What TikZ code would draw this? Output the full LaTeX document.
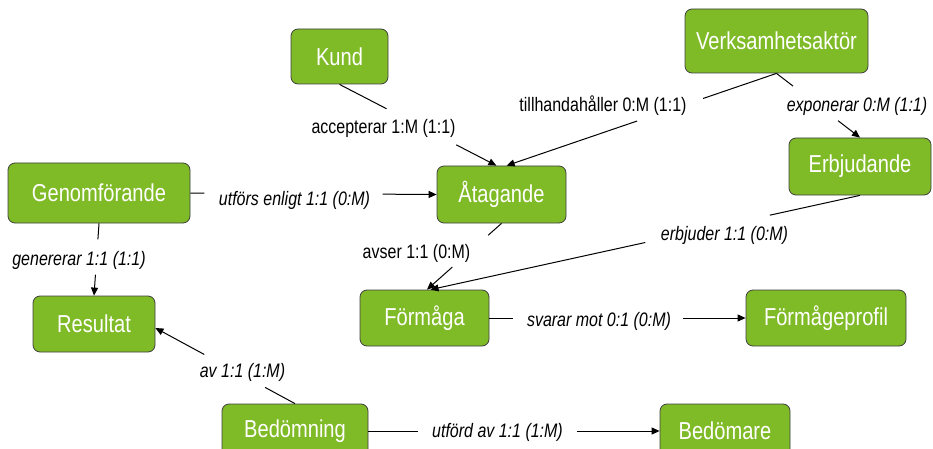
\documentclass[tikz,border=0pt]{standalone}
\usepackage{fontspec}
\setmainfont[FakeStretch=0.82]{Liberation Sans}
\usetikzlibrary{arrows.meta}
\definecolor{boxgreen}{RGB}{127,186,39}

\tikzstyle{entity}=[rectangle, draw=black!75, line width=0.8pt, fill=boxgreen, rounded corners=7pt, text=white, font=\fontsize{24.5}{29}\selectfont, minimum height=56pt, inner sep=0pt]
\tikzstyle{rel}=[font=\fontsize{19.5}{23}\selectfont, inner sep=0pt]
\tikzstyle{reli}=[inner sep=0pt, font=\fontsize{19.5}{23}\selectfont\itshape]
\tikzstyle{conn}=[line width=1pt]
\tikzstyle{arr}=[conn, -{Triangle[length=8pt,width=7pt]}]

\begin{document}
\begin{tikzpicture}[x=1pt,y=-1pt]
\useasboundingbox (0,0) rectangle (933,449);

\node [entity, minimum width=97pt, minimum height=55pt] (kund) at (339.5,56.5) {Kund};
\node [entity, minimum width=183pt, minimum height=64pt] (aktor) at (776.5,41) {Verksamhetsaktör};
\node [entity, minimum width=142pt, minimum height=57pt] (erbj) at (860,166.5) {Erbjudande};
\node [entity, minimum width=182pt, minimum height=60pt] (genf) at (99,193) {Genomförande};
\node [entity, minimum width=129pt, minimum height=57pt] (atag) at (501.5,194.5) {Åtagande};
\node [entity, minimum width=122pt] (res) at (94,324) {Resultat};
\node [entity, minimum width=129pt] (form) at (424.5,318) {Förmåga};
\node [entity, minimum width=160pt] (profil) at (826,318) {Förmågeprofil};
\node [entity, minimum width=146pt, minimum height=54pt] (bed) at (295,431) {Bedömning};
\node [entity, minimum width=130pt, minimum height=54pt] (bedm) at (725,431) {Bedömare};

\node [rel] (acc) at (383.5,128.5) {accepterar 1:M (1:1)};
\node [rel] (tillh) at (603,106) {tillhandahåller 0:M (1:1)};
\node [reli] (expo) at (857,106) {exponerar 0:M (1:1)};
\node [reli] (utfs) at (294.5,200) {utförs enligt 1:1 (0:M)};
\node [reli] (gen) at (79,260) {genererar 1:1 (1:1)};
\node [rel] (avser) at (416.5,253) {avser 1:1 (0:M)};
\node [reli] (erbl) at (724.5,235) {erbjuder 1:1 (0:M)};
\node [reli] (svar) at (599,321) {svarar mot 0:1 (0:M)};
\node [reli] (av) at (242.5,372) {av 1:1 (1:M)};
\node [reli] (utfd) at (497.5,432) {utförd av 1:1 (1:M)};

\path (kund.south) -- coordinate[pos=0.30] (k1) coordinate[pos=0.744] (k2) (atag.100);
\draw [conn] (kund.south) -- (k1);
\draw [arr] (k2) -- (atag.100);

\path (aktor.south) -- coordinate[pos=0.272] (t1) coordinate[pos=0.516] (t2) (atag.80);
\draw [conn] (aktor.south) -- (t1);
\draw [arr] (t2) -- (atag.80);

\path (aktor.south) -- coordinate[pos=0.198] (e1) coordinate[pos=0.737] (e2) (erbj.north);
\draw [conn] (aktor.south) -- (e1);
\draw [arr] (e2) -- (erbj.north);

\path (genf.east) -- coordinate[pos=0.057] (u1) coordinate[pos=0.781] (u2) (atag.west);
\draw [conn] (genf.east) -- (u1);
\draw [arr] (u2) -- (atag.west);

\path (genf.south) -- coordinate[pos=0.22] (g1) coordinate[pos=0.71] (g2) (res.north);
\draw [conn] (genf.south) -- (g1);
\draw [arr] (g2) -- (res.north);

\path (atag.south) -- coordinate[pos=0.18] (a1) coordinate[pos=0.66] (a2) (form.85);
\draw [conn] (atag.south) -- (a1);
\draw [arr] (a2) -- (form.85);

\path (erbj.south) -- coordinate[pos=0.21] (b1) coordinate[pos=0.50] (b2) (form.78);
\draw [conn] (erbj.south) -- (b1);
\draw [arr] (b2) -- (form.78);

\path (form.east) -- coordinate[pos=0.093] (s1) coordinate[pos=0.755] (s2) (profil.west);
\draw [conn] (form.east) -- (s1);
\draw [arr] (s2) -- (profil.west);

\path (bed.north) -- coordinate[pos=0.214] (v1) coordinate[pos=0.65] (v2) ([yshift=-4pt]res.east);
\draw [conn] (bed.north) -- (v1);
\draw [arr] (v2) -- ([yshift=-4pt]res.east);

\path (bed.east) -- coordinate[pos=0.171] (d1) coordinate[pos=0.716] (d2) (bedm.west);
\draw [conn] (bed.east) -- (d1);
\draw [arr] (d2) -- (bedm.west);
\end{tikzpicture}
\end{document}
